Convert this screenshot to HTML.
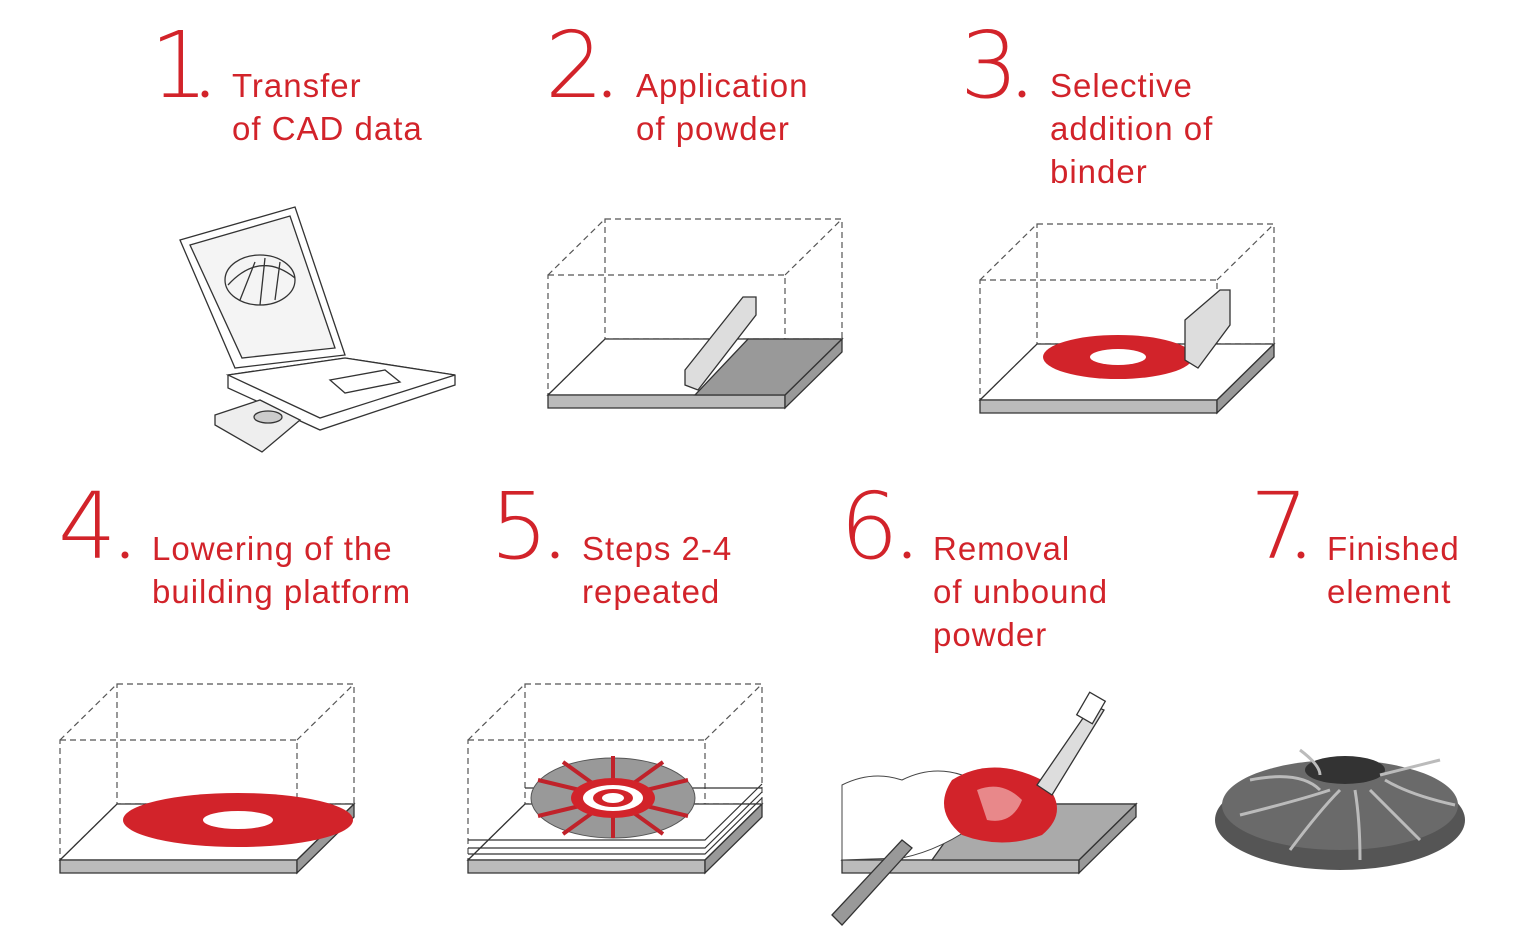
<!DOCTYPE html>
<html><head><meta charset="utf-8"><style>
body{margin:0;background:#fff}
svg{display:block}
.n{font-family:"DejaVu Sans ExtraLight","DejaVu Sans","Liberation Sans",sans-serif;font-weight:200;fill:#d2232a;font-size:92px}
.t{font-family:"Liberation Sans",sans-serif;fill:#d2232a;font-size:33px;letter-spacing:1px}
.d{fill:none;stroke:#555;stroke-width:1.2;stroke-dasharray:6 4}
.o{stroke:#333;stroke-width:1.3}
.p{fill:#d2232a}
</style></head><body>
<svg width="1536" height="949" viewBox="0 0 1536 949" xmlns="http://www.w3.org/2000/svg">
<defs>
<g id="box">
<rect class="d" x="0" y="0" width="237" height="120"/>
<rect class="d" x="57" y="-56" width="237" height="120"/>
<line class="d" x1="0" y1="0" x2="57" y2="-56"/>
<line class="d" x1="237" y1="0" x2="294" y2="-56"/>
<line class="d" x1="0" y1="120" x2="57" y2="64"/>
</g>
<g id="plat">
<polygon class="o" points="0,120 237,120 294,64 57,64" fill="#fff"/>
<polygon class="o" points="0,120 237,120 237,133 0,133" fill="#bbb"/>
<polygon class="o" points="237,120 294,64 294,77 237,133" fill="#999"/>
</g>
</defs>
<!-- texts -->
<text class="n" x="150" y="97">1</text><circle class="p" cx="205" cy="94" r="3.5"/>
<text class="t" x="232" y="97">Transfer</text><text class="t" x="232" y="140">of CAD data</text>
<text class="n" x="545" y="97">2</text><circle class="p" cx="607" cy="94" r="3.5"/>
<text class="t" x="636" y="97">Application</text><text class="t" x="636" y="140">of powder</text>
<text class="n" x="960" y="97">3</text><circle class="p" cx="1022" cy="94" r="3.5"/>
<text class="t" x="1050" y="97">Selective</text><text class="t" x="1050" y="140">addition of</text><text class="t" x="1050" y="183">binder</text>
<text class="n" x="58" y="558">4</text><circle class="p" cx="125" cy="555" r="3.5"/>
<text class="t" x="152" y="560">Lowering of the</text><text class="t" x="152" y="603">building platform</text>
<text class="n" x="490" y="558">5</text><circle class="p" cx="555" cy="555" r="3.5"/>
<text class="t" x="582" y="560">Steps 2-4</text><text class="t" x="582" y="603">repeated</text>
<text class="n" x="840" y="558">6</text><circle class="p" cx="907" cy="555" r="3.5"/>
<text class="t" x="933" y="560">Removal</text><text class="t" x="933" y="603">of unbound</text><text class="t" x="933" y="646">powder</text>
<text class="n" x="1250" y="558">7</text><circle class="p" cx="1301" cy="555" r="3.5"/>
<text class="t" x="1327" y="560">Finished</text><text class="t" x="1327" y="603">element</text>

<!-- laptop -->
<g class="o" fill="#fff">
<polygon points="180,240 295,207 345,355 235,368"/>
<polygon points="190,245 290,216 335,348 242,358" fill="#f4f4f4"/>
<polygon points="228,375 345,358 455,375 455,385 320,430 228,388" fill="#fff"/>
<polygon points="228,375 345,358 455,375 320,418"/>
<polygon points="330,380 385,370 400,382 345,393"/>
<polygon points="215,415 260,400 300,420 262,452 215,425" fill="#eee"/>
<ellipse cx="268" cy="417" rx="14" ry="6" fill="#ccc"/>
<ellipse cx="260" cy="280" rx="35" ry="25" fill="none"/>
<path d="M228,285 Q260,250 295,278 M240,300 L255,262 M260,305 L265,258 M275,300 L280,262" fill="none"/>
</g>
<!-- step2 -->
<g transform="translate(548,275)">
<use href="#box"/>
<use href="#plat"/>
<polygon points="147,120 237,120 294,64 200,64" fill="#999" class="o"/>
<polygon points="137,95 195,22 208,22 208,40 150,115 137,110" fill="#ddd" class="o"/>
</g>
<!-- step3 -->
<g transform="translate(980,280)">
<use href="#box"/>
<use href="#plat"/>
<ellipse cx="138" cy="77" rx="75" ry="22" fill="#d2232a"/>
<ellipse cx="138" cy="77" rx="28" ry="8" fill="#fff"/>
<polygon points="205,40 240,10 250,10 250,45 218,88 205,80" fill="#ddd" class="o"/>
</g>
<!-- step4 -->
<g transform="translate(60,740)">
<use href="#box"/>
<use href="#plat"/>
<ellipse cx="178" cy="80" rx="115" ry="27" fill="#d2232a"/>
<ellipse cx="178" cy="80" rx="35" ry="9" fill="#fff"/>
</g>
<!-- step5 -->
<g transform="translate(468,740)">
<use href="#box"/>
<use href="#plat"/>
<g fill="none" stroke="#333" stroke-width="1.2">
<path d="M0,100 L237,100 L294,44 M0,108 L237,108 L294,52 M0,114 L237,114 L294,58 M57,48 L294,48"/>
</g>
<ellipse cx="145" cy="58" rx="82" ry="40" fill="#999" stroke="#555"/>
<g stroke="#c0222a" stroke-width="4">
<line x1="145" y1="58" x2="145" y2="16"/><line x1="145" y1="58" x2="145" y2="98"/>
<line x1="145" y1="58" x2="70" y2="40"/><line x1="145" y1="58" x2="220" y2="40"/>
<line x1="145" y1="58" x2="70" y2="76"/><line x1="145" y1="58" x2="220" y2="76"/>
<line x1="145" y1="58" x2="95" y2="22"/><line x1="145" y1="58" x2="195" y2="22"/>
<line x1="145" y1="58" x2="95" y2="94"/><line x1="145" y1="58" x2="195" y2="94"/>
</g>
<ellipse cx="145" cy="58" rx="42" ry="20" fill="#d2232a"/>
<ellipse cx="145" cy="58" rx="30" ry="13" fill="#fff"/>
<ellipse cx="145" cy="58" rx="20" ry="9" fill="#d2232a"/>
<ellipse cx="145" cy="58" rx="11" ry="5" fill="#fff"/>
</g>
<!-- step6 -->
<g transform="translate(842,740)">
<use href="#plat"/>
<polygon points="90,120 237,120 294,64 130,64" fill="#aaa" class="o"/>
<path d="M0,120 L0,45 Q30,30 60,40 Q90,25 120,35 L140,80 Q100,110 60,118 Z" fill="#fff" stroke="#444"/>
<path d="M110,40 Q150,15 200,40 Q230,70 200,95 Q160,110 120,95 Q90,70 110,40Z" fill="#d2232a"/>
<path d="M135,50 Q160,40 180,60 Q170,85 145,80Z" fill="#e8888a"/>
<polygon points="195,45 250,-35 262,-30 210,55" fill="#ddd" class="o"/>
<rect x="240" y="-45" width="18" height="26" fill="#fff" class="o" transform="rotate(30 249 -32)"/>
<polygon points="-10,175 60,100 70,108 0,185" fill="#999" class="o"/>
</g>
<!-- impeller -->
<g>
<ellipse cx="1340" cy="820" rx="125" ry="50" fill="#555"/>
<ellipse cx="1340" cy="805" rx="118" ry="45" fill="#6a6a6a"/>
<ellipse cx="1345" cy="770" rx="40" ry="14" fill="#333"/>
<g stroke="#bbb" stroke-width="3" fill="none">
<path d="M1250,780 Q1300,770 1320,790"/><path d="M1240,815 Q1300,800 1330,790"/>
<path d="M1290,850 Q1320,810 1340,790"/><path d="M1360,860 Q1360,820 1355,790"/>
<path d="M1420,840 Q1390,810 1370,790"/><path d="M1455,805 Q1410,795 1385,780"/>
<path d="M1440,760 Q1400,770 1380,775"/><path d="M1300,750 Q1320,765 1320,775"/>
</g>
</g>
</svg>
</body></html>
